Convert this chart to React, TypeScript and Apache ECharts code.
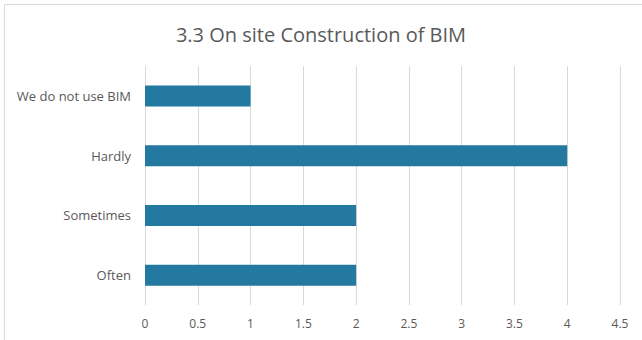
import React, { useEffect, useRef } from "react";
import * as echarts from "echarts";

const title = "3.3 On site Construction of BIM";
const categories = ["Often", "Sometimes", "Hardly", "We do not use BIM"];
const values = [2, 2, 4, 1];
const xMin = 0;
const xMax = 4.5;
const xStep = 0.5;

export default function App() {
  const ref = useRef<HTMLDivElement>(null);
  useEffect(() => {
    if (!ref.current) return;
    const chart = echarts.init(ref.current, null, { renderer: "svg" });
    chart.setOption({
      animation: false,
      backgroundColor: "#ffffff",
      title: {
        text: title,
        left: "center",
        top: 19,
        textStyle: {
          fontFamily: "Open Sans",
          fontSize: 20,
          fontWeight: "normal",
          color: "#595959",
        },
      },
      graphic: [
        {
          type: "rect",
          shape: { x: 4.5, y: 4.5, width: 700, height: 400 },
          style: { fill: "none", stroke: "#d9d9d9", lineWidth: 1 },
          silent: true,
        },
      ],
      grid: { left: 145, right: 22, top: 66, bottom: 35, containLabel: false },
      xAxis: {
        type: "value",
        min: xMin,
        max: xMax,
        interval: xStep,
        axisLine: { show: false },
        axisTick: { show: false },
        splitLine: { show: true, lineStyle: { color: "#d9d9d9", width: 1 } },
        axisLabel: {
          color: "#595959",
          fontFamily: "Open Sans",
          fontSize: 12,
          margin: 12,
        },
      },
      yAxis: {
        type: "category",
        data: categories,
        axisLine: { show: true, lineStyle: { color: "#d9d9d9", width: 1 } },
        axisTick: { show: false },
        axisLabel: {
          color: "#595959",
          fontFamily: "Open Sans",
          fontSize: 13,
          margin: 14,
        },
      },
      series: [
        {
          type: "bar",
          data: values,
          barWidth: 21,
          itemStyle: { color: "#23799f" },
        },
      ],
    });
    return () => chart.dispose();
  }, []);
  return (
    <div
      ref={ref}
      style={{ position: "fixed", left: 0, top: 0, width: 642, height: 340 }}
    />
  );
}
